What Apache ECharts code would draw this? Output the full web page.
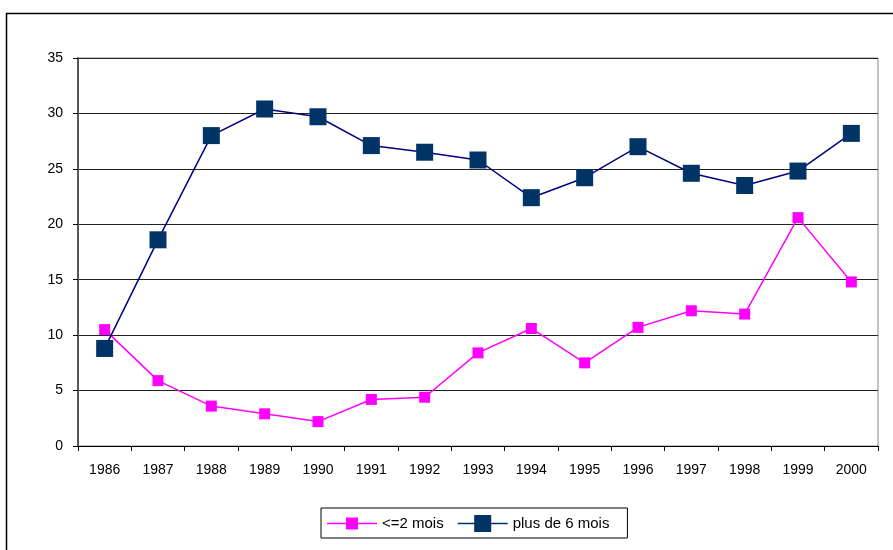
<!DOCTYPE html>
<html><head><meta charset="utf-8">
<script src="https://cdn.jsdelivr.net/npm/echarts@6/dist/echarts.min.js"></script>
<style>html,body{margin:0;padding:0;background:#fff}#c{width:893px;height:550px}</style>
</head><body><div id="c"></div>
<script>
const years = ['1986','1987','1988','1989','1990','1991','1992','1993','1994','1995','1996','1997','1998','1999','2000'];
const moins2 = [10.5, 5.9, 3.6, 2.9, 2.2, 4.2, 4.4, 8.4, 10.6, 7.5, 10.7, 12.2, 11.9, 20.6, 14.8];
const plus6 = [8.8, 18.6, 28.0, 30.4, 29.7, 27.1, 26.5, 25.8, 22.4, 24.2, 27.0, 24.6, 23.5, 24.8, 28.2];
const seriesNames = ['<=2 mois', 'plus de 6 mois'];

const chart = echarts.init(document.getElementById('c'), null, {renderer:'canvas'});
const font = 'Liberation Sans, Arial, sans-serif';
// legend icons: line + square (different square sizes), bbox forced to 50x17
const iconSmall = 'path://M0,0M50,17M0,7.75h50v1.5h-50z M19,2.5h12v12h-12z';
const iconBig = 'path://M0,0M50,17M0,7.75h50v1.5h-50z M16.5,0h17v17h-17z';
chart.setOption({
  animation:false,
  backgroundColor:'#fff',
  graphic:[{type:'rect', shape:{x:6.5,y:13.5,width:1000,height:1000}, style:{fill:'none',stroke:'#000',lineWidth:1.5}, silent:true, z:-1}],
  grid:{left:78, right:15, top:58, bottom:104, show:true, borderColor:'#888', borderWidth:1},
  legend:{
    top:508, left:321,
    data:[
      {name:seriesNames[0], icon:iconSmall, itemStyle:{color:'#ff00ff'}},
      {name:seriesNames[1], icon:iconBig, itemStyle:{color:'#003366'}}
    ],
    borderColor:'#000', borderWidth:1, padding:[7,18,6,6],
    itemWidth:50, itemHeight:17, itemGap:14,
    textStyle:{fontFamily:font, fontSize:15, color:'#000'}
  },
  xAxis:{
    type:'category', data:years, boundaryGap:true,
    axisLine:{lineStyle:{color:'#000'}},
    axisTick:{show:true, interval:0, length:5, lineStyle:{color:'#000'}},
    axisLabel:{fontFamily:font, fontSize:14, color:'#000', margin:17, interval:0}
  },
  yAxis:{
    type:'value', min:0, max:35, interval:5,
    axisLine:{show:true, lineStyle:{color:'#555', width:2}},
    axisTick:{show:true, length:5, lineStyle:{color:'#000'}},
    axisLabel:{fontFamily:font, fontSize:14, color:'#000', margin:15},
    splitLine:{lineStyle:{color:'#222', width:1}}
  },
  series:[
    {name:seriesNames[0], type:'line', data:moins2, symbol:'rect', symbolSize:11,
     lineStyle:{color:'#ff00ff', width:1.5}, itemStyle:{color:'#ff00ff'}},
    {name:seriesNames[1], type:'line', data:plus6, symbol:'rect', symbolSize:17,
     lineStyle:{color:'#000080', width:1.5}, itemStyle:{color:'#003366'}}
  ]
});
</script></body></html>
